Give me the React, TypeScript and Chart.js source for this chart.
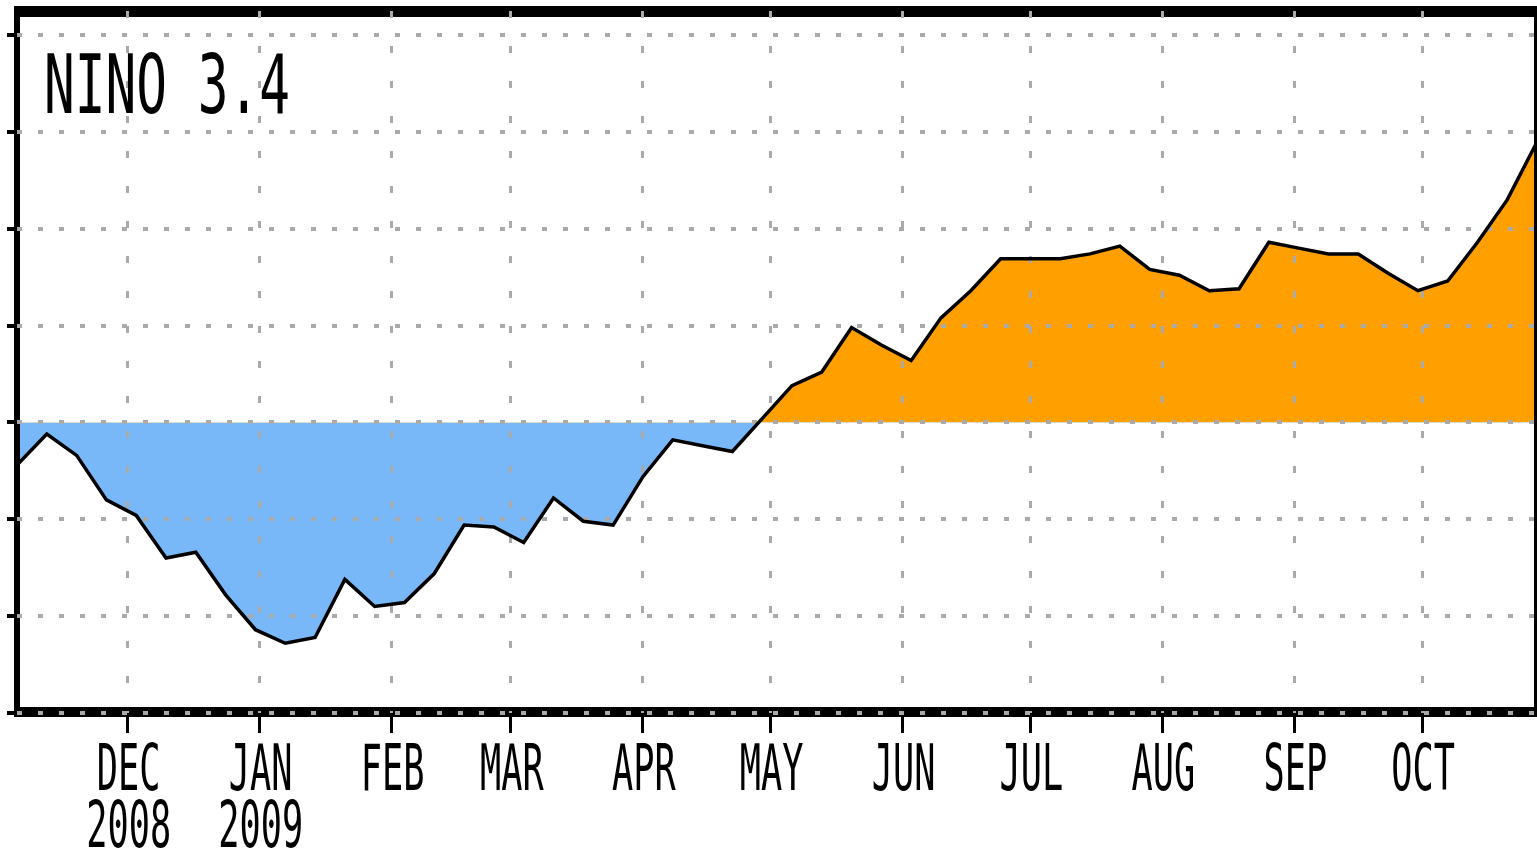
import React, { useEffect, useRef } from 'react';
import { Chart, registerables } from 'chart.js';

Chart.register(...registerables);

// ---- data ----
const START_DATE = '2008-11-05'; // first weekly value (Wednesday-centred weeks)
const weeklyAnomaly = [
  -0.22, -0.06, -0.17, -0.40, -0.48, -0.70, -0.67, -0.89, -1.07, -1.14,
  -1.11, -0.81, -0.95, -0.93, -0.78, -0.53, -0.54, -0.62, -0.39, -0.51,
  -0.53, -0.28, -0.09, -0.12, -0.15, 0.02, 0.19, 0.26, 0.49, 0.40,
  0.32, 0.54, 0.68, 0.845, 0.845, 0.845, 0.87, 0.91, 0.79, 0.76,
  0.68, 0.69, 0.93, 0.90, 0.87, 0.87, 0.77, 0.68, 0.73, 0.93,
  1.15, 1.45,
];
const monthTickDates = [
  '2008-12-01', '2009-01-01', '2009-02-01', '2009-03-01', '2009-04-01', '2009-05-01',
  '2009-06-01', '2009-07-01', '2009-08-01', '2009-09-01', '2009-10-01',
];
const monthTickLabels: (string | string[])[] = [
  ['DEC', '2008'], ['JAN', '2009'], 'FEB', 'MAR', 'APR', 'MAY', 'JUN', 'JUL', 'AUG', 'SEP', 'OCT',
];
const yTickValues = [-1.5, -1.0, -0.5, 0, 0.5, 1.0, 1.5, 2.0];
const TITLE = 'NINO 3.4';

const ORANGE = '#FFA000';
const BLUE = '#78B8F8';
const GRID = '#AAAAAA';
const FONT = '"DejaVu Sans Mono", "Liberation Mono", monospace';

const DAY_MS = 86400000;
const dayOffset = (d: string) => (Date.parse(d) - Date.parse(START_DATE)) / DAY_MS;

const framePlugin = {
  id: 'frame',
  beforeDraw(chart: any) {
    const ctx = chart.ctx;
    ctx.save();
    ctx.fillStyle = '#000';
    ctx.fillRect(14, 6, 1537 - 14, 11); // top
    ctx.fillRect(14, 6, 6, 711); // left
    ctx.fillRect(14, 707, 1537 - 14, 10); // bottom
    ctx.fillRect(1534, 6, 3, 711); // right
    ctx.restore();
  },
};

function drawCondensed(ctx: CanvasRenderingContext2D, text: string, x: number, baseline: number, sx: number) {
  ctx.save();
  ctx.translate(x, baseline);
  ctx.scale(sx, 1);
  ctx.textAlign = 'center';
  ctx.textBaseline = 'alphabetic';
  ctx.fillText(text, 0, 0);
  ctx.restore();
}

const textPlugin = {
  id: 'texts',
  afterDraw(chart: any) {
    const ctx: CanvasRenderingContext2D = chart.ctx;
    ctx.save();
    ctx.fillStyle = '#000';

    // title inside the plot
    ctx.font = `82px ${FONT}`;
    const m = ctx.measureText(TITLE);
    const ink = m.actualBoundingBoxLeft + m.actualBoundingBoxRight;
    const tsx = 241 / ink;
    ctx.save();
    ctx.translate(47 + m.actualBoundingBoxLeft * tsx, 113);
    ctx.scale(tsx, 1);
    ctx.textAlign = 'left';
    ctx.fillText(TITLE, 0, 0);
    ctx.restore();

    // month tick labels
    ctx.font = `64px ${FONT}`;
    const mm = ctx.measureText('DEC');
    const sx = 59 / (mm.actualBoundingBoxLeft + mm.actualBoundingBoxRight);
    const xs = chart.scales.x;
    xs.ticks.forEach((t: any, i: number) => {
      const px = xs.getPixelForValue(t.value);
      const lab = monthTickLabels[i];
      const lines = Array.isArray(lab) ? lab : [lab];
      lines.forEach((line, j) => drawCondensed(ctx, line, px + 1, 790 + j * 57, sx));
    });
    ctx.restore();
  },
};

export default function App() {
  const ref = useRef<HTMLCanvasElement | null>(null);

  useEffect(() => {
    document.body.style.margin = '0';
    const canvas = ref.current;
    if (!canvas) return;
    const points = weeklyAnomaly.map((v, i) => ({ x: i * 7, y: v }));
    const chart = new Chart(canvas, {
      type: 'line',
      data: {
        datasets: [
          {
            data: points,
            borderColor: '#000',
            borderWidth: 3.5,
            pointRadius: 0,
            tension: 0,
            fill: { target: { value: 0 }, above: ORANGE, below: BLUE },
          } as any,
        ],
      },
      options: {
        animation: false,
        responsive: false,
        devicePixelRatio: 1,
        layout: { padding: { top: 11, right: 2, left: 0, bottom: 0 } },
        plugins: {
          legend: { display: false },
          tooltip: { enabled: false },
          filler: { drawTime: 'beforeDraw', propagate: false },
        } as any,
        scales: {
          x: {
            type: 'linear',
            position: 'bottom',
            min: 0,
            max: 356.5,
            afterBuildTicks: (s: any) => {
              s.ticks = monthTickDates.map((d) => ({ value: dayOffset(d) }));
            },
            afterFit: (s: any) => {
              s.height = 139;
            },
            ticks: {
              display: false,
              callback: (_v: any, i: number) => monthTickLabels[i] as any,
            },
            grid: { color: GRID, lineWidth: 3, tickColor: '#000', tickWidth: 3, tickLength: 20 },
            border: { display: false, dash: [7, 28] },
          },
          y: {
            type: 'linear',
            min: -1.5,
            max: 2.124,
            afterBuildTicks: (s: any) => {
              s.ticks = yTickValues.map((v) => ({ value: v }));
            },
            afterFit: (s: any) => {
              s.width = 17;
            },
            ticks: { display: false },
            grid: { color: GRID, lineWidth: 4, tickColor: '#000', tickWidth: 4, tickLength: 10 },
            border: { display: false, dash: [5, 16] },
          },
        } as any,
      },
      plugins: [framePlugin, textPlugin],
    });
    return () => chart.destroy();
  }, []);

  return <canvas ref={ref} width={1537} height={852} style={{ display: 'block' }} />;
}
